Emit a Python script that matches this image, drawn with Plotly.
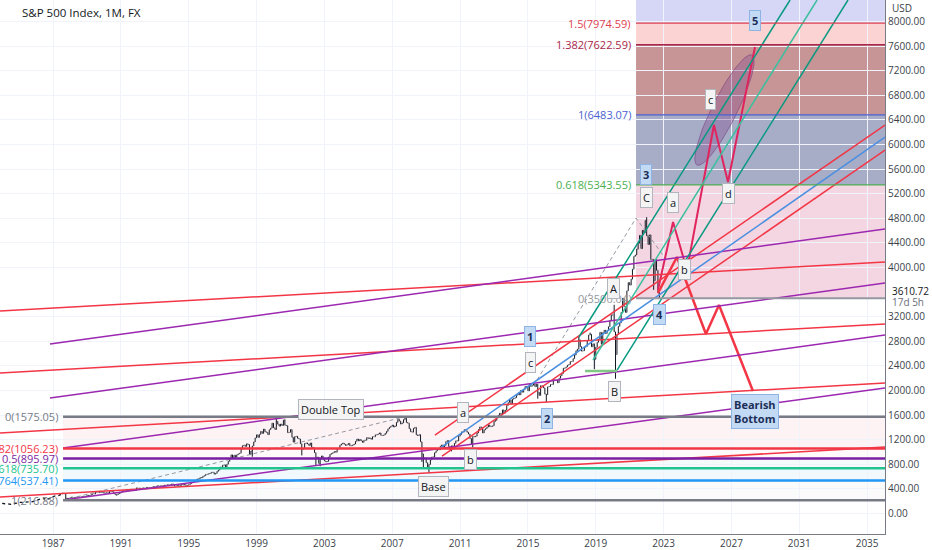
import numpy as np
import pandas as pd
import plotly.graph_objects as go

# S&P 500 monthly closes, Jan 1984 .. Oct 2022 (last bar still running)
monthly_close = [
    163.41, 157.06, 159.18, 160.05, 150.55, 153.18, 150.66, 166.68, 166.10, 166.09, 163.58, 167.24,  # 1984
    179.63, 181.18, 180.66, 179.83, 189.55, 191.85, 190.92, 188.63, 182.08, 189.82, 202.17, 211.28,  # 1985
    211.78, 226.92, 238.90, 235.52, 247.35, 250.84, 236.12, 252.93, 231.32, 243.98, 249.22, 242.17,  # 1986
    274.08, 284.20, 291.70, 288.36, 290.10, 304.00, 318.66, 329.80, 321.83, 251.79, 230.30, 247.08,  # 1987
    257.07, 267.82, 258.89, 261.33, 262.16, 273.50, 272.02, 261.52, 271.91, 278.97, 273.70, 277.72,  # 1988
    297.47, 288.86, 294.87, 309.64, 320.52, 317.98, 346.08, 351.45, 349.15, 340.36, 345.99, 353.40,  # 1989
    329.08, 331.89, 339.94, 330.80, 361.23, 358.02, 356.15, 322.56, 306.05, 304.00, 322.22, 330.22,  # 1990
    343.93, 367.07, 375.22, 375.35, 389.83, 371.16, 387.81, 395.43, 387.86, 392.46, 375.22, 417.09,  # 1991
    408.79, 412.70, 403.69, 414.95, 415.35, 408.14, 424.21, 414.03, 417.80, 418.68, 431.35, 435.71,  # 1992
    438.78, 443.38, 451.67, 440.19, 450.19, 450.53, 448.13, 463.56, 458.93, 467.83, 461.79, 466.45,  # 1993
    481.61, 467.14, 445.77, 450.91, 456.50, 444.27, 458.26, 475.49, 462.69, 472.35, 453.69, 459.27,  # 1994
    470.42, 487.39, 500.71, 514.71, 533.40, 544.75, 562.06, 561.88, 584.41, 581.50, 605.37, 615.93,  # 1995
    636.02, 640.43, 645.50, 654.17, 669.12, 670.63, 639.95, 651.99, 687.33, 705.27, 757.02, 740.74,  # 1996
    786.16, 790.82, 757.12, 801.34, 848.28, 885.14, 954.31, 899.47, 947.28, 914.62, 955.40, 970.43,  # 1997
    980.28, 1049.34, 1101.75, 1111.75, 1090.82, 1133.84, 1120.67, 957.28, 1017.01, 1098.67, 1163.63, 1229.23,  # 1998
    1279.64, 1238.33, 1286.37, 1335.18, 1301.84, 1372.71, 1328.72, 1320.41, 1282.71, 1362.93, 1388.91, 1469.25,  # 1999
    1394.46, 1366.42, 1498.58, 1452.43, 1420.60, 1454.60, 1430.83, 1517.68, 1436.51, 1429.40, 1314.95, 1320.28,  # 2000
    1366.01, 1239.94, 1160.33, 1249.46, 1255.82, 1224.42, 1211.23, 1133.58, 1040.94, 1059.78, 1139.45, 1148.08,  # 2001
    1130.20, 1106.73, 1147.39, 1076.92, 1067.14, 989.82, 911.62, 916.07, 815.28, 885.76, 936.31, 879.82,  # 2002
    855.70, 841.15, 848.18, 916.92, 963.59, 974.50, 990.31, 1008.01, 995.97, 1050.71, 1058.20, 1111.92,  # 2003
    1131.13, 1144.94, 1126.21, 1107.30, 1120.68, 1140.84, 1101.72, 1104.24, 1114.58, 1130.20, 1173.82, 1211.92,  # 2004
    1181.27, 1203.60, 1180.59, 1156.85, 1191.50, 1191.33, 1234.18, 1220.33, 1228.81, 1207.01, 1249.48, 1248.29,  # 2005
    1280.08, 1280.66, 1294.87, 1310.61, 1270.09, 1270.20, 1276.66, 1303.82, 1335.85, 1377.94, 1400.63, 1418.30,  # 2006
    1438.24, 1406.82, 1420.86, 1482.37, 1530.62, 1503.35, 1455.27, 1473.99, 1526.75, 1549.38, 1481.14, 1468.36,  # 2007
    1378.55, 1330.63, 1322.70, 1385.59, 1400.38, 1280.00, 1267.38, 1282.83, 1166.36, 968.75, 896.24, 903.25,  # 2008
    825.88, 735.09, 797.87, 872.81, 919.14, 919.32, 987.48, 1020.62, 1057.08, 1036.19, 1095.63, 1115.10,  # 2009
    1073.87, 1104.49, 1169.43, 1186.69, 1089.41, 1030.71, 1101.60, 1049.33, 1141.20, 1183.26, 1180.55, 1257.64,  # 2010
    1286.12, 1327.22, 1325.83, 1363.61, 1345.20, 1320.64, 1292.28, 1218.89, 1131.42, 1253.30, 1246.96, 1257.60,  # 2011
    1312.41, 1365.68, 1408.47, 1397.91, 1310.33, 1362.16, 1379.32, 1406.58, 1440.67, 1412.16, 1416.18, 1426.19,  # 2012
    1498.11, 1514.68, 1569.19, 1597.57, 1630.74, 1606.28, 1685.73, 1632.97, 1681.55, 1756.54, 1805.81, 1848.36,  # 2013
    1782.59, 1859.45, 1872.34, 1883.95, 1923.57, 1960.23, 1930.67, 2003.37, 1972.29, 2018.05, 2067.56, 2058.90,  # 2014
    1994.99, 2104.50, 2067.89, 2085.51, 2107.39, 2063.11, 2103.84, 1972.18, 1920.03, 2079.36, 2080.41, 2043.94,  # 2015
    1940.24, 1932.23, 2059.74, 2065.30, 2096.95, 2098.86, 2173.60, 2170.95, 2168.27, 2126.15, 2198.81, 2238.83,  # 2016
    2278.87, 2363.64, 2362.72, 2384.20, 2411.80, 2423.41, 2470.30, 2471.65, 2519.36, 2575.26, 2647.58, 2673.61,  # 2017
    2823.81, 2713.83, 2640.87, 2648.05, 2705.27, 2718.37, 2816.29, 2901.52, 2913.98, 2711.74, 2760.17, 2506.85,  # 2018
    2704.10, 2784.49, 2834.40, 2945.83, 2752.06, 2941.76, 2980.38, 2926.46, 2976.74, 3037.56, 3140.98, 3230.78,  # 2019
    3225.52, 2954.22, 2584.59, 2912.43, 3044.31, 3100.29, 3271.12, 3500.31, 3363.00, 3269.96, 3621.63, 3756.07,  # 2020
    3714.24, 3811.15, 3972.89, 4181.17, 4204.11, 4297.50, 4395.26, 4522.68, 4307.54, 4605.38, 4567.00, 4766.18,  # 2021
    4515.55, 4373.94, 4530.41, 4131.93, 4132.15, 3785.38, 4130.29, 3955.00, 3585.62, 3610.72,  # 2022
]
# monthly extremes that stick out of the open/close range
bar_lows = {'1987-10': 216.46, '1990-10': 294.51, '1998-10': 923.32, '2001-09': 944.75,
            '2002-07': 775.68, '2002-10': 768.63, '2008-10': 839.80, '2008-11': 741.02,
            '2009-03': 666.79, '2010-07': 1010.91, '2011-10': 1074.77, '2015-08': 1867.01,
            '2016-02': 1810.10, '2018-12': 2346.58, '2020-03': 2191.86, '2022-06': 3636.87,
            '2022-10': 3491.58}
bar_highs = {'1987-08': 337.89, '2000-03': 1552.87, '2000-09': 1530.09, '2007-10': 1576.09,
             '2018-01': 2872.87, '2018-09': 2940.91, '2020-02': 3393.52, '2022-01': 4818.62}
bars_from = '1987-08-01'
last_price = 3610.72
countdown = '17d 5h'

x_range = ['1983-11-15', '2036-01-21']
y_range = [-333, 8350]
year_ticks = [1987, 1991, 1995, 1999, 2003, 2007, 2011, 2015, 2019, 2023, 2027, 2031, 2035]
price_ticks = [0, 400, 800, 1200, 1600, 2000, 2400, 2800, 3200, 4000, 4400, 4800,
               5200, 5600, 6000, 6400, 6800, 7200, 7600, 8000]

# fib retracement 1987 low -> 2007 high
fib_left_start = '1987-08-04'
fib_left_ratio = ['0', '0.382', '0.5', '0.618', '0.764', '1']
fib_left_price = [1575.05, 1056.23, 895.97, 735.70, 537.41, 216.88]
# trend based fib extension
fib_right_start = '2021-05-17'
fib_right_ratio = ['0', '0.618', '1', '1.382', '1.5']
fib_right_price = [3500.04, 5343.55, 6483.07, 7622.59, 7974.59]

# trend lines: (start date, start price, end date, end price)
red_lines = [('1983-11-15', 3293, '2036-01-21', 4089),
             ('1983-11-15', 2285, '2036-01-21', 3081),
             ('1983-11-15', 1309, '2036-01-21', 2122),
             ('1983-11-15', 268, '2036-01-21', 1081),
             ('2009-07-08', 1276, '2036-01-21', 6317),
             ('2009-12-08', 935, '2036-01-21', 5911)]
purple_lines = [('1986-10-27', 2756, '2036-01-21', 4626),
                ('1986-10-27', 1878, '2036-01-21', 3748),
                ('1987-08-04', 1065, '2036-01-21', 2902),
                ('1987-08-04', 220, '2036-01-21', 2041)]
blue_lines = [('2009-10-26', 1065, '2036-01-21', 6122)]
green_lines = [('2018-01-04', 2870, '2030-06-16', 8350),
               ('2020-04-04', 2333, '2033-11-15', 8350)]
teal_lines = [('2018-11-03', 2496, '2032-01-19', 8350)]
base_line = ('2018-05-15', 2317, '2020-04-04', 2317)
dashed_lines = [(['1987-08-04', '2007-10-11'], [216.88, 1575.05]),
                (['2015-07-16', '2021-05-17', '2023-02-01'], [2171, 4805, 4154])]

# projected paths
alt_path_dates = ['2022-09-01', '2023-07-23', '2024-05-18', '2025-12-20', '2026-10-19', '2028-05-22']
alt_path_price = [3634, 4740, 3959, 6317, 5390, 7585]
bear_path_dates = ['2022-09-01', '2023-10-15', '2025-06-30', '2026-04-08', '2028-04-08']
bear_path_price = [3585, 4171, 2919, 3390, 1992]
ellipse_axis = [('2024-12-20', 5667), ('2028-03-18', 7455)]

# labels
box_labels = [('Double Top', '2003-05-22', 1699), ('a', '2011-03-03', 1650),
              ('b', '2011-08-03', 886), ('Base', '2009-05-29', 447),
              ('c', '2015-03-07', 2463), ('A', '2020-01-07', 3667),
              ('B', '2020-01-30', 1992), ('C', '2022-01-08', 5146),
              ('a', '2023-07-23', 5065), ('b', '2024-04-04', 3976),
              ('c', '2025-09-26', 6740), ('d', '2026-10-19', 5211)]
wave_labels = [('1', '2015-02-17', 2886), ('2', '2016-02-17', 1553),
               ('3', '2021-12-17', 5520), ('4', '2022-10-15', 3244),
               ('5', '2028-05-22', 8024), ('Bearish<br>Bottom', '2028-05-22', 1667)]

RED = '#f23645'
PURPLE = '#9c27b0'
FONT = 'Open Sans'
plot_w, plot_h = 885, 534

# ---- bars ----
dates = pd.date_range('1984-01-01', periods=len(monthly_close), freq='MS')
close = np.array(monthly_close)
opn = np.concatenate([[close[0]], close[:-1]])
high = np.maximum(opn, close)
low = np.minimum(opn, close)
for m, v in bar_lows.items():
    i = dates.get_loc(pd.Timestamp(m + '-01'))
    low[i] = min(low[i], v)
for m, v in bar_highs.items():
    i = dates.get_loc(pd.Timestamp(m + '-01'))
    high[i] = max(high[i], v)
cut = dates.get_loc(pd.Timestamp(bars_from))

fig = go.Figure()

shapes = []

def band(x0, y0, y1, color):
    shapes.append(dict(type='rect', xref='x', yref='y', x0=x0, x1=x_range[1], y0=y0, y1=y1,
                       fillcolor=color, line_width=0, layer='below'))

def seg(x0, y0, x1, y1, color, width=1.5, dash='solid'):
    shapes.append(dict(type='line', xref='x', yref='y', x0=x0, y0=y0, x1=x1, y1=y1,
                       line=dict(color=color, width=width, dash=dash), layer='above'))

# fib retracement bands
left_fills = ['rgba(242,54,69,0.06)', 'rgba(242,54,69,0.03)', 'rgba(34,171,148,0.05)',
              'rgba(33,150,243,0.06)', 'rgba(120,123,134,0.03)']
left_cols = ['#787b86', RED, '#7b1fa2', '#22c38e', '#2196f3', '#787b86']
for i in range(len(fib_left_price) - 1):
    band(fib_left_start, fib_left_price[i + 1], fib_left_price[i], left_fills[i])

# fib extension bands
right_fills = ['rgba(210,90,140,0.25)', 'rgba(60,70,130,0.45)', 'rgba(130,20,20,0.45)',
               'rgba(240,80,80,0.25)']
right_cols = ['#9598a1', '#4caf50', '#4a5fd0', '#a8264a', '#e04050']
for i in range(len(fib_right_price) - 1):
    band(fib_right_start, fib_right_price[i], fib_right_price[i + 1], right_fills[i])
band(fib_right_start, fib_right_price[-1], 9000, 'rgba(90,90,220,0.25)')

for lines, col in [(red_lines, RED), (purple_lines, PURPLE), (blue_lines, '#4a8fe0'),
                   (green_lines, '#089981'), (teal_lines, '#3cbf9e')]:
    for x0, y0, x1, y1 in lines:
        seg(x0, y0, x1, y1, col)
seg(*base_line, '#81c784', width=2.5)

for p, col in zip(fib_left_price, left_cols):
    seg(fib_left_start, p, x_range[1], p, col, width=2.5)
for p, col in zip(fib_right_price, right_cols):
    seg(fib_right_start, p, x_range[1], p, col, width=2 if col == '#9598a1' else 1.3)

# dashed guides
for xs, ys in dashed_lines:
    fig.add_trace(go.Scatter(x=xs, y=ys, mode='lines', hoverinfo='skip',
                             line=dict(color='#9598a1', width=1, dash='4px,3px')))

# price
fig.add_trace(go.Scatter(x=dates[:cut + 1], y=close[:cut + 1], mode='lines', hoverinfo='skip',
                         line=dict(color='#131722', width=1.3, dash='dot')))
fig.add_trace(go.Ohlc(x=dates[cut:], open=opn[cut:], high=high[cut:], low=low[cut:],
                      close=close[cut:], hoverinfo='skip',
                      increasing_line_color='#131722', decreasing_line_color='#131722',
                      line_width=1))

# ellipse drawn in screen space so it keeps its shape
x0t = pd.Timestamp(x_range[0])
span = pd.Timestamp(x_range[1]) - x0t
def to_px(d, p):
    return ((pd.Timestamp(d) - x0t) / span * plot_w,
            (p - y_range[0]) / (y_range[1] - y_range[0]) * plot_h)
(ax, ay), (bx, by) = [to_px(d, p) for d, p in ellipse_axis]
cx, cy = (ax + bx) / 2, (ay + by) / 2
a = np.hypot(bx - ax, by - ay) / 2
ang = np.arctan2(by - ay, bx - ax)
b = 12.5
t = np.linspace(0, 2 * np.pi, 90)
u = cx + a * np.cos(t) * np.cos(ang) - b * np.sin(t) * np.sin(ang)
v = cy + a * np.cos(t) * np.sin(ang) + b * np.sin(t) * np.cos(ang)
ell_x = [x0t + span * (k / plot_w) for k in u]
ell_y = y_range[0] + v / plot_h * (y_range[1] - y_range[0])
fig.add_trace(go.Scatter(x=ell_x, y=ell_y, mode='lines', fill='toself', hoverinfo='skip',
                         fillcolor='rgba(130,70,140,0.35)',
                         line=dict(color='rgba(110,50,120,0.5)', width=1)))

fig.add_trace(go.Scatter(x=alt_path_dates, y=alt_path_price, mode='lines', hoverinfo='skip',
                         line=dict(color='#e0245e', width=2)))
fig.add_trace(go.Scatter(x=bear_path_dates, y=bear_path_price, mode='lines', hoverinfo='skip',
                         line=dict(color=RED, width=2.5)))

ann = []
for r, p, col in zip(fib_left_ratio, fib_left_price, left_cols):
    ann.append(dict(x=fib_left_start, y=p, text=f'{r}({p:.2f})', xanchor='right', xshift=-3,
                    showarrow=False, font=dict(family=FONT, size=11, color=col)))
for r, p, col in zip(fib_right_ratio, fib_right_price, right_cols):
    ann.append(dict(x=fib_right_start, y=p, text=f'{r}({p:.2f})', xanchor='right', xshift=-3,
                    showarrow=False, font=dict(family=FONT, size=11, color=col)))
for txt, d, p in box_labels:
    ann.append(dict(x=d, y=p, text=txt, showarrow=False, bgcolor='#f4f4f5',
                    bordercolor='#b2b5be', borderwidth=1, borderpad=2,
                    font=dict(family=FONT, size=11, color='#131722')))
for txt, d, p in wave_labels:
    ann.append(dict(x=d, y=p, text='<b>' + txt + '</b>', showarrow=False, bgcolor='#c3daf5',
                    bordercolor='#8fb3e3', borderwidth=1, borderpad=2,
                    font=dict(family=FONT, size=11, color='#1c2e57')))

ann.append(dict(xref='paper', yref='paper', x=20 / plot_w, y=1 - 13 / plot_h, xanchor='left',
                yanchor='middle', text='S&P 500 Index, 1M, FX', showarrow=False,
                font=dict(family=FONT, size=11.5, color='#131722')))
ann.append(dict(xref='paper', yref='paper', x=1.006, y=1 - 8 / plot_h, xanchor='left',
                yanchor='middle', text='USD', showarrow=False,
                font=dict(family=FONT, size=10, color='#3c3f4a')))
ann.append(dict(xref='paper', yref='y', x=1.006, y=last_price, xanchor='left',
                text=f'{last_price:.2f}', showarrow=False, bgcolor='white',
                font=dict(family=FONT, size=10, color='#131722')))
ann.append(dict(xref='paper', yref='y', x=1.006, y=last_price, yshift=-11, xanchor='left',
                text=countdown, showarrow=False,
                font=dict(family=FONT, size=10, color='#6a6d78')))

fig.update_layout(
    width=932, height=550, showlegend=False, hovermode=False,
    margin=dict(l=0, r=47, t=0, b=16),
    paper_bgcolor='white', plot_bgcolor='white',
    shapes=shapes, annotations=ann,
    font=dict(family=FONT, size=10, color='#3c3f4a'),
)
fig.update_xaxes(type='date', range=x_range, rangeslider_visible=False,
                 tickvals=[f'{y}-01-01' for y in year_ticks], ticktext=[str(y) for y in year_ticks],
                 showgrid=True, gridcolor='#f0f3fa', zeroline=False,
                 showline=True, linecolor='#787b86', linewidth=1, ticks='')
fig.update_yaxes(range=y_range, side='right', tickvals=price_ticks,
                 ticktext=[f'{p:.2f}' for p in price_ticks],
                 showgrid=True, gridcolor='#f0f3fa', zeroline=False,
                 showline=True, linecolor='#787b86', linewidth=1, ticks='')

# page body has a default 8px margin; drop it so the figure fills the window
fig.write_html("out.html", config={'displayModeBar': False},
               post_script="document.body.style.margin='0';")
